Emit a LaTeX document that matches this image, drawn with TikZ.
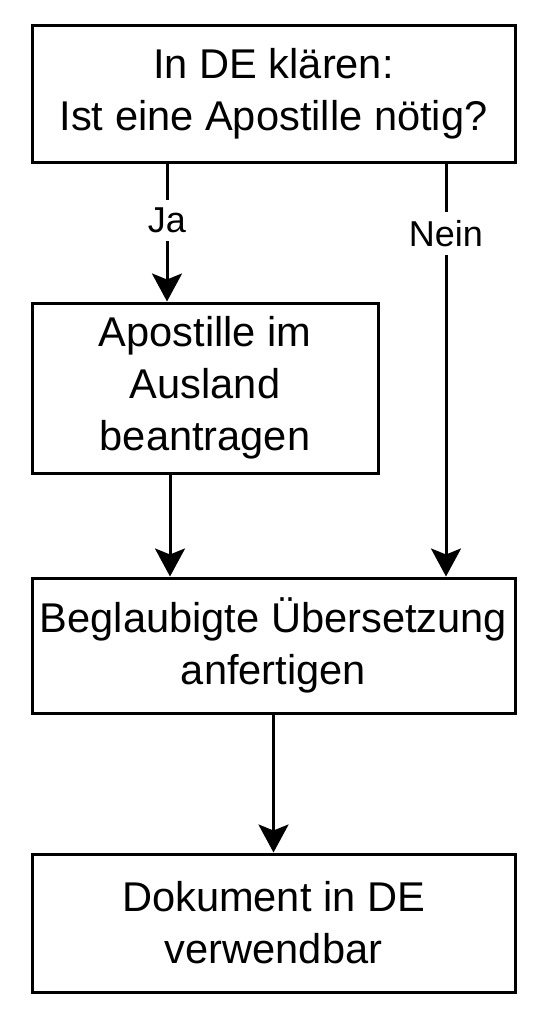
\documentclass[tikz,border=0pt]{standalone}
\usepackage{fontspec}
\setmainfont{Liberation Sans}
\usetikzlibrary{positioning,arrows.meta}

\begin{document}
\begin{tikzpicture}[x=0.5pt,y=-0.5pt,line width=1.5pt,
  box/.style={draw,align=center,inner sep=0pt,font=\fontsize{20.8}{26}\selectfont},
  pfeil/.style={-{Stealth[length=14pt,width=15pt,inset=3pt]}},
  lbl/.style={fill=white,inner sep=4pt,font=\fontsize{18}{21}\selectfont}]
\useasboundingbox (0,0) rectangle (546,1024);
\node[box,minimum width=241.5pt,minimum height=68.5pt] (klaeren) at (273.5,93.5) {In DE klären:\\Ist eine Apostille nötig?};
\node[box,minimum width=173pt,minimum height=85pt] (antrag) at (205,388) {Apostille im\\Ausland\\beantragen};
\node[box,minimum width=241.5pt,minimum height=67.5pt] (uebers) at (273.5,645.5) {Beglaubigte Übersetzung\\anfertigen};
\node[box,minimum width=241.5pt,minimum height=69pt] (dokument) at (273.5,923) {Dokument in DE\\verwendbar};
\draw[pfeil] (klaeren.south -| 167,0) -- node[lbl,pos=0.41] {Ja} (antrag.north -| 167,0);
\draw[pfeil] (klaeren.south -| 446,0) -- node[lbl,pos=0.17] {Nein} (uebers.north -| 446,0);
\draw[pfeil] (antrag.south -| 170,0) -- (uebers.north -| 170,0);
\draw[pfeil] (uebers.south) -- (dokument.north);

\end{tikzpicture}
\end{document}
